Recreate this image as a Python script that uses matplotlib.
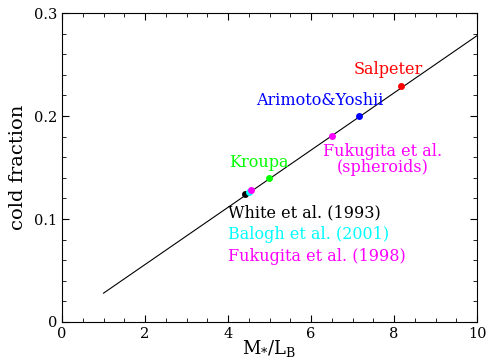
import matplotlib
matplotlib.use("Agg")
import matplotlib.pyplot as plt
from matplotlib.ticker import MultipleLocator

# relation line
line_x = [1.0, 10.0]
line_y = [0.028, 0.278]

# IMF points (M*/L_B, cold fraction)
imf_names = ["White", "Balogh", "Fukugita98", "Kroupa", "Fukugita_sph", "Arimoto", "Salpeter"]
imf_x = [4.40, 4.50, 4.56, 4.99, 6.50, 7.16, 8.17]
imf_y = [0.124, 0.126, 0.128, 0.140, 0.181, 0.200, 0.229]
imf_colors = ["black", "cyan", "magenta", "#00ff00", "magenta", "blue", "red"]

plt.rcParams['font.family'] = ['DejaVu Serif']
plt.rcParams['mathtext.fontset'] = 'dejavuserif'

fig = plt.figure(figsize=(4.86, 3.62), dpi=100)
ax = fig.add_axes([0.1276, 0.1105, 0.8539, 0.8535])

ax.plot(line_x, line_y, color='black', lw=0.8)
for x, y, c in zip(imf_x, imf_y, imf_colors):
    ax.plot(x, y, 'o', color=c, ms=5, mec='none')

fs = 11.5
ax.text(7.86, 0.2456, "Salpeter", color='red', ha='center', va='center', fontsize=fs)
ax.text(6.22, 0.2146, "Arimoto&Yoshii", color='blue', ha='center', va='center', fontsize=fs)
ax.text(7.73, 0.166, "Fukugita et al.", color='magenta', ha='center', va='center', fontsize=fs)
ax.text(7.73, 0.150, "(spheroids)", color='magenta', ha='center', va='center', fontsize=fs)
ax.text(4.75, 0.155, "Kroupa", color='#00ff00', ha='center', va='center', fontsize=fs)
ax.text(4.0, 0.106, "White et al. (1993)", color='black', ha='left', va='center', fontsize=fs)
ax.text(4.0, 0.0845, "Balogh et al. (2001)", color='cyan', ha='left', va='center', fontsize=fs)
ax.text(4.0, 0.064, "Fukugita et al. (1998)", color='magenta', ha='left', va='center', fontsize=fs)

ax.set_xlim(0, 10)
ax.set_ylim(0, 0.3)
ax.xaxis.set_major_locator(MultipleLocator(2))
ax.xaxis.set_minor_locator(MultipleLocator(0.5))
ax.yaxis.set_major_locator(MultipleLocator(0.1))
ax.yaxis.set_minor_locator(MultipleLocator(0.02))
ax.set_yticks([0, 0.1, 0.2, 0.3])
ax.set_yticklabels(["0", "0.1", "0.2", "0.3"])
ax.tick_params(which='both', direction='in', top=True, right=True, labelsize=10.5)
ax.tick_params(which='major', length=5)
ax.tick_params(which='minor', length=3)

ax.set_xlabel(r"M$_{*}$/L$_{\rm B}$", fontsize=13, labelpad=-2)
ax.set_ylabel("cold fraction", fontsize=14, labelpad=5)

fig.savefig("out.png", dpi=100)
